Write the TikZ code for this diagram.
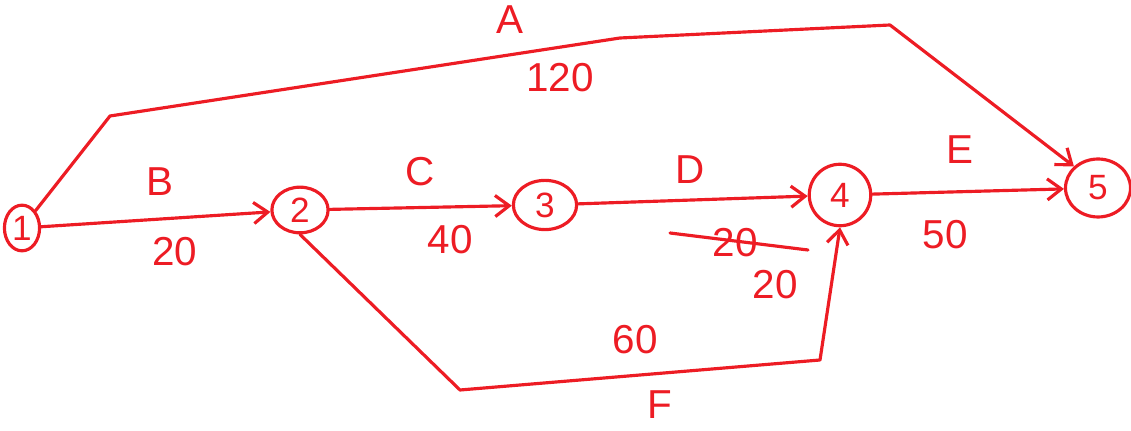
\documentclass[tikz,border=0pt]{standalone}
\usepackage{fontspec}
\setmainfont{Liberation Sans}
\usetikzlibrary{shapes.geometric,arrows.meta,calc}
\definecolor{ink}{RGB}{237,28,36}
\begin{document}
\begin{tikzpicture}[x=0.02cm,y=-0.02cm,
  ev/.style={ellipse,draw=ink,line width=1.8pt,inner sep=0pt,text=ink,font=\fontsize{20}{24}\selectfont},
  act/.style={draw=ink,line width=1.8pt,line cap=round,line join=round,-{Straight Barb[length=8pt,width=12pt,line width=1.8pt]}},
  lbl/.style={text=ink,font=\fontsize{23}{27}\selectfont,inner sep=1pt}]
\useasboundingbox (0,0) rectangle (1131,431);
\node[ev,minimum width=20pt,minimum height=26pt] (n1) at (22,228) {1};
\node[ev,minimum width=32pt,minimum height=26pt] (n2) at (300,210) {2};
\node[ev,minimum width=36pt,minimum height=28pt] (n3) at (545,205) {3};
\node[ev,minimum width=35pt,minimum height=35pt] (n4) at (840,195) {4};
\node[ev,minimum width=37pt,minimum height=33pt] (n5) at (1098,188) {5};
\coordinate (a1) at (110,116);
\coordinate (a2) at (620,38);
\coordinate (a3) at (890,25);
\coordinate (f1) at (460,390);
\coordinate (f2) at (820,360);
\draw[act] (n1.north east) -- (a1) -- (a2) -- (a3) -- (n5.north west);
\draw[act] (n1) -- (n2);
\draw[act] (n2) -- (n3);
\draw[act] (n3) -- (n4);
\draw[act] (n4) -- (n5);
\draw[act] (n2.south) -- (f1) -- (f2) -- (n4.south);
\node[lbl] (la) at (510,20) {A};
\node[lbl] (l120) at (560,78) {120};
\node[lbl] (lb) at (160,182) {B};
\node[lbl] (l20b) at (175,252) {20};
\node[lbl] (lc) at (420,172) {C};
\node[lbl] (l40) at (450,240) {40};
\node[lbl] (ld) at (690,170) {D};
\node[lbl] (l20x) at (735,243) {20};
\coordinate (sx1) at (670,233);
\coordinate (sx2) at (808,250);
\draw[draw=ink,line width=1.8pt,line cap=round] (sx1) -- (sx2);
\node[lbl] (l20d) at (775,285) {20};
\node[lbl] (le) at (960,150) {E};
\node[lbl] (l50) at (945,235) {50};
\node[lbl] (l60) at (635,340) {60};
\node[lbl] (lf) at (660,405) {F};
\end{tikzpicture}
\end{document}
